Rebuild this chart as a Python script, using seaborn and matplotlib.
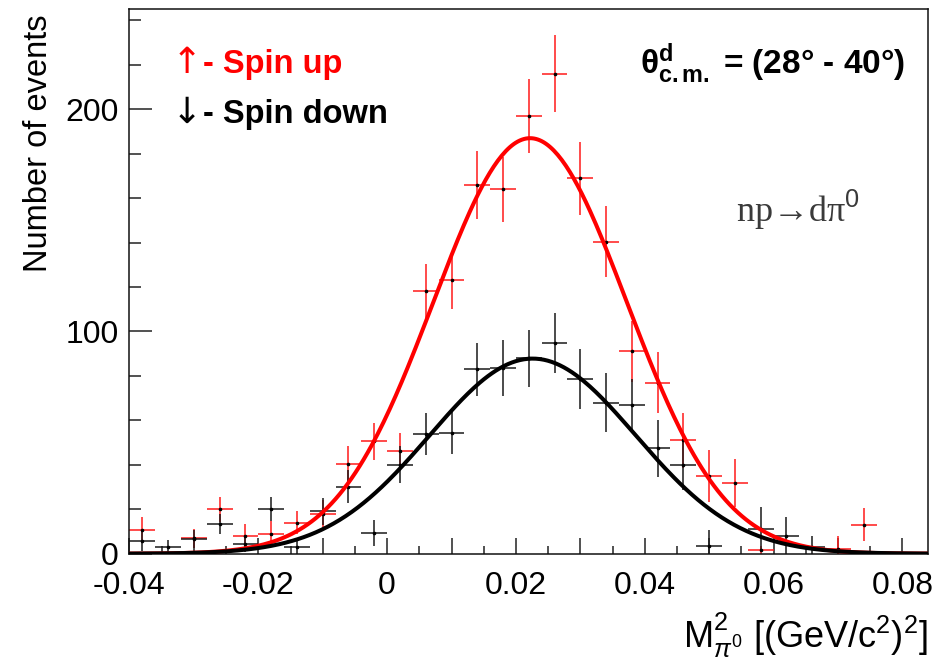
import numpy as np
import matplotlib
matplotlib.use("Agg")
import matplotlib.pyplot as plt
import seaborn as sns
from matplotlib.ticker import FixedLocator, MultipleLocator

# Bin centres of the M^2 histogram (bin width 0.004)
bin_centers = [-0.038, -0.034, -0.030, -0.026, -0.022, -0.018, -0.014, -0.010,
               -0.006, -0.002, 0.002, 0.006, 0.010, 0.014, 0.018, 0.022,
               0.026, 0.030, 0.034, 0.038, 0.042, 0.046, 0.050, 0.054,
               0.058, 0.062, 0.066, 0.070, 0.074, 0.078, 0.082]
bin_half_width = 0.002

# Spin up counts and errors (nan = empty bin)
nan = np.nan
spin_up = [10.7, nan, 7.0, 20.0, 8.0, 9.0, 14.0, 18.0,
           40.5, 50.5, 46.0, 118.0, 123.0, 166.0, 164.0, 197.0,
           216.0, 169.0, 140.5, 91.0, 77.0, 51.0, 35.0, 31.7,
           1.5, nan, nan, 2.0, 13.0, nan, nan]
spin_up_err = [6.0, 0.0, 4.3, 5.6, 5.5, 5.5, 5.0, 6.0,
               7.8, 8.4, 8.4, 12.2, 12.8, 15.3, 14.7, 16.8,
               17.3, 16.4, 15.8, 13.9, 13.8, 12.4, 11.7, 10.9,
               2.0, 0.0, 0.0, 6.0, 7.5, 0.0, 0.0]

# Spin down counts and errors
spin_down = [5.9, 2.8, 6.6, 13.4, 4.4, 20.0, 3.0, 19.0,
             30.2, 9.2, 40.0, 53.7, 54.3, 83.0, 83.4, 88.0,
             94.7, 78.6, 68.0, 66.8, 47.5, 40.0, 3.6, nan,
             11.0, 7.8, 3.0, nan, nan, nan, nan]
spin_down_err = [4.5, 3.2, 4.1, 4.5, 3.7, 5.3, 3.4, 6.2,
                 7.3, 5.8, 8.3, 9.4, 9.4, 12.0, 12.6, 12.8,
                 13.4, 13.4, 13.2, 12.0, 12.8, 11.3, 7.2, 0.0,
                 9.8, 8.7, 5.0, 0.0, 0.0, 0.0, 0.0]

# Gaussian fit parameters (amplitude, mean, sigma)
fit_up = (187.0, 0.0222, 0.0150)
fit_down = (87.8, 0.0226, 0.0160)

x_range = (-0.04, 0.084)
y_range = (0, 245)
x_ticks = [-0.04, -0.03, -0.02, -0.01, 0.0, 0.01, 0.02, 0.03, 0.04, 0.05, 0.06, 0.07, 0.08]
x_tick_labels = ["-0.04", "", "-0.02", "", "0", "", "0.02", "", "0.04", "", "0.06", "", "0.08"]
y_ticks = [0, 100, 200]
y_tick_labels = ["0", "100", "200"]

sns.set_style("ticks")
plt.rcParams["font.family"] = ["Liberation Sans", "DejaVu Sans"]
plt.rcParams["mathtext.fontset"] = "custom"
plt.rcParams["mathtext.rm"] = "Liberation Sans"
plt.rcParams["mathtext.it"] = "Liberation Sans:italic"
plt.rcParams["mathtext.bf"] = "Liberation Sans:bold"
plt.rcParams["axes.unicode_minus"] = False
plt.rcParams["text.color"] = "black"
plt.rcParams["axes.labelcolor"] = "black"
plt.rcParams["xtick.color"] = "black"
plt.rcParams["ytick.color"] = "black"

fig = plt.figure(figsize=(9.48, 6.65), dpi=100)
ax = fig.add_axes([0.1366, 0.1674, 0.8424, 0.8186])

red = "#ff1a1a"

# Data points
ax.errorbar(bin_centers, spin_up, xerr=bin_half_width, yerr=spin_up_err,
            fmt="o", ms=1.6, mfc="black", mec="black", ecolor=red,
            elinewidth=1.1, capsize=0, zorder=2)
ax.errorbar(bin_centers, spin_down, xerr=bin_half_width, yerr=spin_down_err,
            fmt="o", ms=1.6, mfc="black", mec="black", ecolor="#1a1a1a",
            elinewidth=1.1, capsize=0, zorder=2)

# Fit curves
xs = np.linspace(x_range[0], x_range[1], 400)
for (amp, mu, sig), col in [(fit_up, "red"), (fit_down, "black")]:
    ys = amp * np.exp(-0.5 * ((xs - mu) / sig) ** 2)
    sns.lineplot(x=xs, y=ys, color=col, lw=2.9, ax=ax, sort=False, zorder=3)

ax.set_xlim(*x_range)
ax.set_ylim(*y_range)

ax.xaxis.set_major_locator(FixedLocator(x_ticks))
ax.set_xticklabels(x_tick_labels)
ax.xaxis.set_minor_locator(MultipleLocator(0.005))
ax.yaxis.set_major_locator(FixedLocator(y_ticks))
ax.set_yticklabels(y_tick_labels)
ax.yaxis.set_minor_locator(MultipleLocator(20))

ax.tick_params(axis="both", which="both", direction="in", color="#222222",
               width=1.1, labelsize=23)
ax.tick_params(axis="x", which="major", length=11.5, pad=12.5)
ax.tick_params(axis="x", which="minor", length=5.8)
ax.tick_params(axis="y", which="major", length=16.5, pad=8)
ax.tick_params(axis="y", which="minor", length=8.6)
for s in ax.spines.values():
    s.set_visible(True)
    s.set_linewidth(1.1)
    s.set_color("#111111")

ax.set_xlabel(r"M$^{2}_{\pi^{0}}$ [(GeV/c$^{2}$)$^{2}$]", fontsize=26, loc="right")
ax.xaxis.set_label_coords(1.0, -0.104)
ax.xaxis.label.set_va("top")
ax.set_ylabel("Number of events", fontsize=23.5, loc="top")
ax.yaxis.set_label_coords(-0.094, 0.99)

# Spin legend: arrows and labels
ax.text(0.053, 0.8824, "\u2191", color="red", fontsize=26,
        transform=ax.transAxes, va="baseline", family="DejaVu Sans")
ax.text(0.092, 0.8824, "- Spin up", color="red", fontsize=23.5,
        fontweight="bold", transform=ax.transAxes, va="baseline")
ax.text(0.053, 0.7907, "\u2193", color="black", fontsize=26,
        transform=ax.transAxes, va="baseline", family="DejaVu Sans")
ax.text(0.092, 0.7907, "- Spin down", color="black", fontsize=23.5,
        fontweight="bold", transform=ax.transAxes, va="baseline")

ax.text(0.971, 0.8824, "\u03b8" + r"$^{\mathbf{d}}_{\mathbf{c{.}m{.}}}$" + " = (28° - 40°)",
        fontsize=24, fontweight="bold", ha="right", va="baseline",
        transform=ax.transAxes)
ax.text(0.76, 0.61, "np\u2192d\u03c0$^{0}$", color="#3a3a3a", fontsize=26,
        family=["Liberation Serif", "DejaVu Serif"], va="baseline",
        transform=ax.transAxes)

fig.savefig("out.png", dpi=100)
